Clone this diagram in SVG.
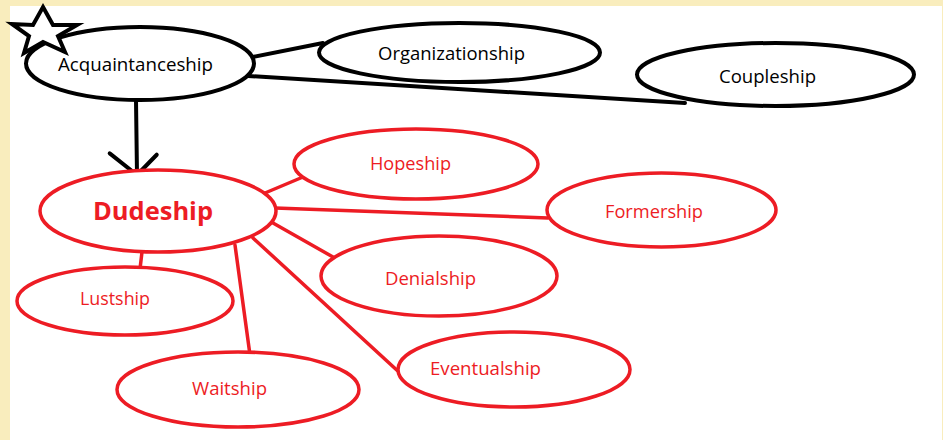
<svg xmlns="http://www.w3.org/2000/svg" width="943" height="440" viewBox="0 0 943 440">
  <style>
    .bk { fill: #ffffff; stroke: #000000; stroke-width: 4; }
    .rd { fill: #ffffff; stroke: #ED1C24; stroke-width: 3.5; }
    .lb { stroke: #000000; stroke-width: 4; fill: none; stroke-linecap: round; }
    .lr { stroke: #ED1C24; stroke-width: 3.5; fill: none; stroke-linecap: round; }
    .tb { font-family: "Open Sans", "Noto Sans", sans-serif; font-size: 18px; fill: #000000; text-anchor: middle; }
    .tr { font-family: "Open Sans", "Noto Sans", sans-serif; font-size: 18px; fill: #ED1C24; text-anchor: middle; }
    .big { font-size: 25px; font-weight: bold; }
  </style>
  <defs>
    <marker id="vhead" markerUnits="userSpaceOnUse" markerWidth="60" markerHeight="60" refX="0" refY="0" orient="auto" overflow="visible" viewBox="-30 -30 60 60">
      <path d="M-22,27 L0,0 L-20,-20" fill="none" stroke="#000000" stroke-width="4" stroke-linecap="round" stroke-linejoin="round"/>
    </marker>
  </defs>
  <rect x="0" y="0" width="943" height="440" fill="#F9EDBD"/>
  <rect x="10" y="6" width="932" height="434" fill="#ffffff"/>

  <g id="connectors">
    <line class="lb" x1="253" y1="57" x2="323" y2="43"/>
    <line class="lb" x1="248" y1="76" x2="685" y2="103"/>
    <line class="lb" x1="136" y1="100" x2="137" y2="175" marker-end="url(#vhead)"/>
    <line class="lr" x1="265" y1="193" x2="303" y2="177"/>
    <line class="lr" x1="275" y1="208" x2="548" y2="218"/>
    <line class="lr" x1="273" y1="223" x2="333" y2="257"/>
    <line class="lr" x1="253" y1="238" x2="400" y2="373"/>
    <line class="lr" x1="235" y1="245" x2="250" y2="355"/>
    <line class="lr" x1="142" y1="252" x2="140" y2="269"/>
  </g>

  <g id="acquaintanceship">
    <ellipse class="bk" cx="140" cy="63.5" rx="114" ry="36.5"/>
    <polygon class="bk" stroke-linejoin="miter" points="43,7 53,25 77,25 58,36 65,52 43,42 24,53 29,36 12,24 33,25"/>
    <text class="tb" x="135.5" y="71" textLength="155" lengthAdjust="spacingAndGlyphs">Acquaintanceship</text>
  </g>
  <g id="organizationship">
    <ellipse class="bk" cx="459.5" cy="52.5" rx="140.5" ry="29.5"/>
    <text class="tb" x="451.5" y="60" textLength="147" lengthAdjust="spacingAndGlyphs">Organizationship</text>
  </g>
  <g id="coupleship">
    <ellipse class="bk" cx="775.5" cy="74.5" rx="138.5" ry="31.5"/>
    <text class="tb" x="767.5" y="83" textLength="97" lengthAdjust="spacingAndGlyphs">Coupleship</text>
  </g>

  <g id="dudeship">
    <ellipse class="rd" cx="158" cy="211" rx="118" ry="41"/>
    <text class="tr big" x="153" y="220" textLength="120" lengthAdjust="spacingAndGlyphs">Dudeship</text>
  </g>
  <g id="hopeship">
    <ellipse class="rd" cx="416" cy="164" rx="122" ry="35"/>
    <text class="tr" x="410.5" y="170" textLength="81" lengthAdjust="spacingAndGlyphs">Hopeship</text>
  </g>
  <g id="formership">
    <ellipse class="rd" cx="661.5" cy="210" rx="114.5" ry="37"/>
    <text class="tr" x="654" y="218" textLength="98" lengthAdjust="spacingAndGlyphs">Formership</text>
  </g>
  <g id="denialship">
    <ellipse class="rd" cx="439" cy="276" rx="118" ry="40"/>
    <text class="tr" x="430.5" y="285" textLength="91" lengthAdjust="spacingAndGlyphs">Denialship</text>
  </g>
  <g id="eventualship">
    <ellipse class="rd" cx="514" cy="369.5" rx="116" ry="37.5"/>
    <text class="tr" x="485.5" y="375" textLength="111" lengthAdjust="spacingAndGlyphs">Eventualship</text>
  </g>
  <g id="lustship">
    <ellipse class="rd" cx="125" cy="301" rx="108" ry="34"/>
    <text class="tr" x="115" y="305" textLength="70" lengthAdjust="spacingAndGlyphs">Lustship</text>
  </g>
  <g id="waitship">
    <ellipse class="rd" cx="238" cy="389.5" rx="121" ry="37.5"/>
    <text class="tr" x="229.5" y="395" textLength="75" lengthAdjust="spacingAndGlyphs">Waitship</text>
  </g>
</svg>
